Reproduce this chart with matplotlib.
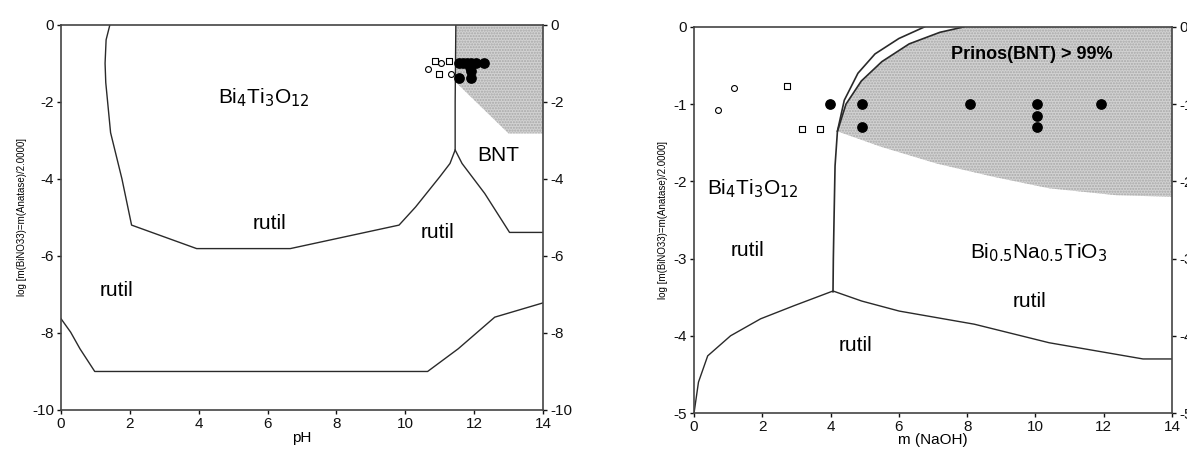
import numpy as np
import matplotlib
matplotlib.use("Agg")
import matplotlib.pyplot as plt

plt.rcParams['font.family'] = ['Liberation Sans', 'DejaVu Sans']
plt.rcParams['axes.unicode_minus'] = False

# ---- left panel: pH diagram ----
ph_upper_x = [1.42, 1.31, 1.28, 1.30, 1.44, 1.77, 2.05, 3.94, 6.66, 9.82, 10.3, 11.0, 11.3, 11.45, 11.45, 11.47]
ph_upper_y = [0.0, -0.39, -1.0, -1.5, -2.8, -4.0, -5.2, -5.81, -5.81, -5.2, -4.73, -3.95, -3.6, -3.25, -2.0, 0.0]
ph_right_x = [11.45, 11.65, 12.31, 13.03, 14.0]
ph_right_y = [-3.25, -3.6, -4.38, -5.39, -5.39]
ph_lower_x = [0.0, 0.28, 0.55, 0.98, 10.65, 11.54, 12.6, 14.0]
ph_lower_y = [-7.63, -7.98, -8.41, -9.0, -9.0, -8.41, -7.59, -7.22]
ph_shade_x = [11.48, 14.0, 14.0, 13.0, 11.48]
ph_shade_y = [0.0, 0.0, -2.82, -2.82, -1.5]

ph_open_circ_x = [10.65, 11.04, 11.32]
ph_open_circ_y = [-1.14, -1.0, -1.27]
ph_open_sq_x = [10.85, 11.26, 10.98]
ph_open_sq_y = [-0.94, -0.95, -1.27]
ph_filled_x = [11.55, 11.68, 11.8, 11.92, 12.05, 12.28, 11.55, 11.92, 11.92, 11.88]
ph_filled_y = [-1.0, -1.0, -1.0, -1.0, -1.0, -1.0, -1.38, -1.2, -1.38, -1.1]

# ---- right panel: NaOH diagram ----
na_outer_x = [4.07, 4.08, 4.1, 4.13, 4.2, 4.4, 4.8, 5.3, 6.0, 6.75]
na_outer_y = [-3.43, -3.0, -2.5, -1.8, -1.35, -0.95, -0.6, -0.35, -0.15, 0.0]
na_inner_x = [4.2, 4.45, 4.9, 5.5, 6.3, 7.2, 7.9]
na_inner_y = [-1.35, -1.0, -0.7, -0.45, -0.22, -0.07, 0.0]
na_lower_x = [0.0, 0.13, 0.4, 1.07, 1.95, 2.93, 4.07, 4.91, 6.01, 8.21, 10.4, 13.15, 14.0]
na_lower_y = [-5.0, -4.6, -4.26, -4.0, -3.78, -3.61, -3.42, -3.55, -3.68, -3.85, -4.09, -4.3, -4.3]
na_shade_bot_x = [4.25, 5.46, 7.11, 8.76, 10.4, 12.38, 14.0]
na_shade_bot_y = [-1.36, -1.55, -1.77, -1.94, -2.09, -2.18, -2.2]

na_open_circ_x = [0.71, 1.18]
na_open_circ_y = [-1.08, -0.79]
na_open_sq_x = [2.71, 3.15, 3.7]
na_open_sq_y = [-0.77, -1.32, -1.32]
na_filled_x = [3.98, 4.91, 4.91, 8.07, 10.05, 10.05, 10.05, 11.91]
na_filled_y = [-1.0, -1.0, -1.3, -1.0, -1.0, -1.15, -1.3, -1.0]

ylab = "log [m(BiNO33)=m(Anatase)/2.0000]"
line_c = "#2a2a2a"
shade_fc = "#d2d2d2"

fig = plt.figure(figsize=(11.87, 4.5), dpi=100)
ax1 = fig.add_axes([0.0514, 0.0889, 0.406, 0.856])
ax2 = fig.add_axes([0.5847, 0.0822, 0.4027, 0.858])


def style(ax):
    for s in ax.spines.values():
        s.set_color("#444444")
        s.set_linewidth(1.2)
    ax.tick_params(direction="out", length=3, width=1, labelsize=11,
                   right=True, labelright=True, pad=2, colors="#111111")
    ax.set_xticks(range(0, 15, 2))
    ax.set_xlim(0, 14)


# left
style(ax1)
ax1.set_ylim(-10, 0)
ax1.set_yticks(range(-10, 1, 2))
ax1.fill(ph_shade_x, ph_shade_y, facecolor=shade_fc, edgecolor="#a8a8a8",
         hatch="......", linewidth=0, zorder=1)
ax1.plot(ph_upper_x, ph_upper_y, color=line_c, lw=1.0, zorder=2)
ax1.plot(ph_right_x, ph_right_y, color=line_c, lw=1.0, zorder=2)
ax1.plot(ph_lower_x, ph_lower_y, color=line_c, lw=1.0, zorder=2)
ax1.scatter(ph_open_circ_x, ph_open_circ_y, s=18, facecolors="white", edgecolors="black", lw=0.8, zorder=3)
ax1.scatter(ph_open_sq_x, ph_open_sq_y, s=20, marker="s", facecolors="white", edgecolors="black", lw=0.8, zorder=3)
ax1.scatter(ph_filled_x, ph_filled_y, s=45, color="black", zorder=3)
ax1.text(5.9, -1.9, r"Bi$_4$Ti$_3$O$_{12}$", fontsize=15, ha="center", va="center")
ax1.text(6.05, -5.15, "rutil", fontsize=15, ha="center", va="center")
ax1.text(10.95, -5.4, "rutil", fontsize=15, ha="center", va="center")
ax1.text(1.6, -6.9, "rutil", fontsize=15, ha="center", va="center")
ax1.text(12.7, -3.4, "BNT", fontsize=15, ha="center", va="center")
ax1.set_xlabel("pH", fontsize=11, labelpad=0)
ax1.set_ylabel(ylab, fontsize=7, labelpad=4)

# right
style(ax2)
ax2.set_ylim(-5, 0)
ax2.set_yticks(range(-5, 1))
sx = na_inner_x[::-1] + na_shade_bot_x + [14.0, 14.0]
sy = na_inner_y[::-1] + na_shade_bot_y + [-2.2, 0.0]
ax2.fill(sx, sy, facecolor=shade_fc, edgecolor="#a8a8a8", hatch="......",
         linewidth=0, zorder=1)
ax2.plot(na_outer_x, na_outer_y, color=line_c, lw=1.2, zorder=2)
ax2.plot(na_inner_x, na_inner_y, color=line_c, lw=1.2, zorder=2)
ax2.plot(na_lower_x, na_lower_y, color=line_c, lw=1.0, zorder=2)
ax2.scatter(na_open_circ_x, na_open_circ_y, s=18, facecolors="white", edgecolors="black", lw=0.8, zorder=3)
ax2.scatter(na_open_sq_x, na_open_sq_y, s=20, marker="s", facecolors="white", edgecolors="black", lw=0.8, zorder=3)
ax2.scatter(na_filled_x, na_filled_y, s=45, color="black", zorder=3)
ax2.text(9.9, -0.36, "Prinos(BNT) > 99%", fontsize=13, fontweight="bold", ha="center", va="center")
ax2.text(1.72, -2.1, r"Bi$_4$Ti$_3$O$_{12}$", fontsize=15, ha="center", va="center")
ax2.text(1.56, -2.9, "rutil", fontsize=15, ha="center", va="center")
ax2.text(10.1, -2.93, r"Bi$_{0.5}$Na$_{0.5}$TiO$_3$", fontsize=15, ha="center", va="center")
ax2.text(9.83, -3.55, "rutil", fontsize=15, ha="center", va="center")
ax2.text(4.72, -4.13, "rutil", fontsize=15, ha="center", va="center")
ax2.set_xlabel("m (NaOH)", fontsize=11, labelpad=-1)
ax2.set_ylabel(ylab, fontsize=7, labelpad=4)

fig.savefig("out.png", dpi=100)
